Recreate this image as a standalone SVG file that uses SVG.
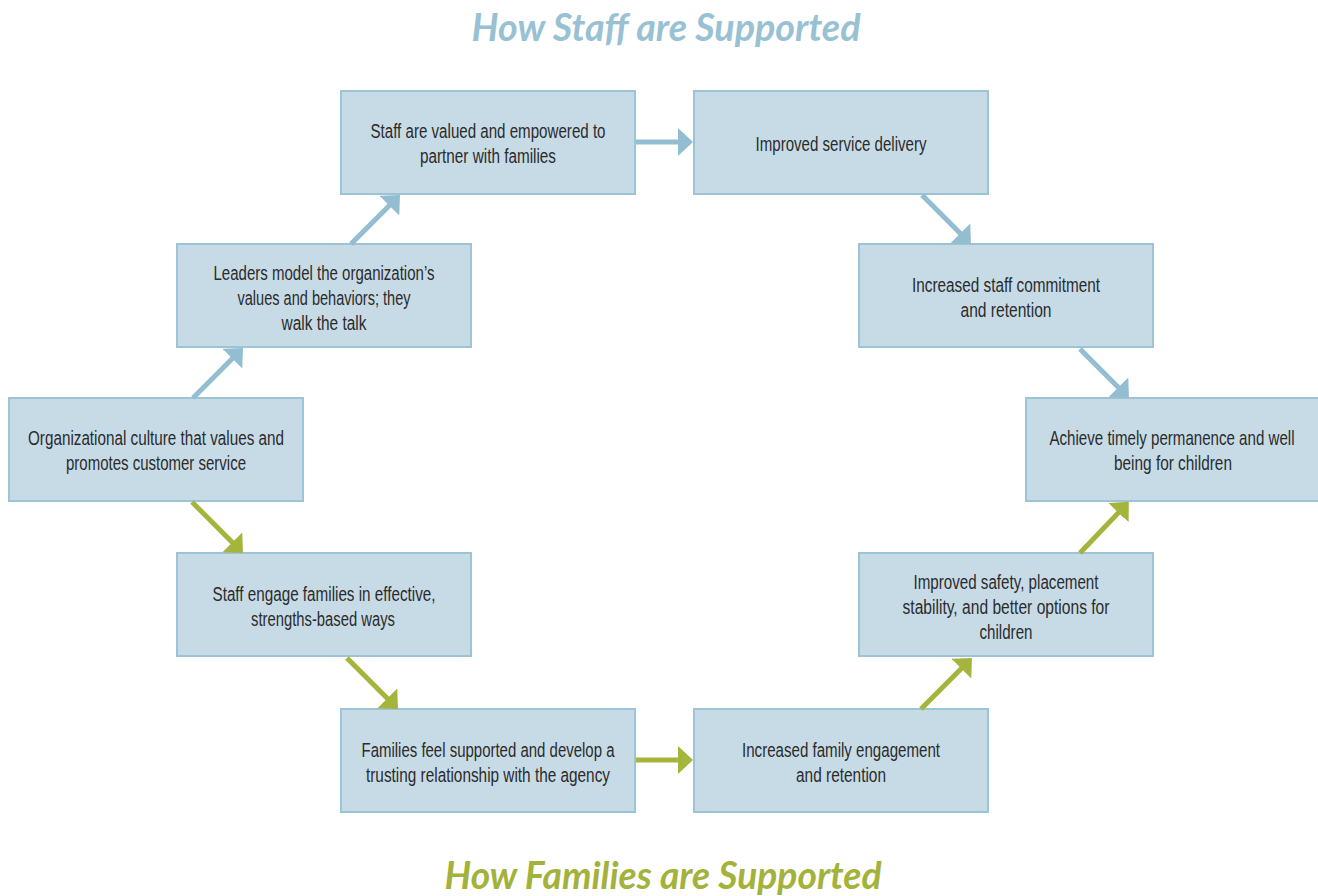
<svg xmlns="http://www.w3.org/2000/svg" width="1318" height="896" viewBox="0 0 1318 896">
<defs>
<style>
.box{fill:#c7dbe7;stroke:#9cc3d6;stroke-width:2}
.fill{fill:#c7dbe7}
.edge{fill:none;stroke:#9cc3d6;stroke-width:2}
.t{font-family:"Liberation Sans",Arial,sans-serif;font-size:20px;fill:#2b2b2b;text-anchor:middle}
.title{font-family:Lato,"Liberation Sans",sans-serif;font-weight:bold;font-style:italic;font-size:38px;text-anchor:middle}
.cb{stroke:#93bdd1;stroke-width:5;fill:none}
.cg{stroke:#a5b43a;stroke-width:5;fill:none}
</style>
<marker id="ab" markerUnits="userSpaceOnUse" markerWidth="16" markerHeight="30" viewBox="0 0 16 30" refX="5" refY="14" orient="auto"><path d="M0,0 L15,14 L0,28 z" fill="#93bdd1"/></marker>
<marker id="ag" markerUnits="userSpaceOnUse" markerWidth="16" markerHeight="30" viewBox="0 0 16 30" refX="5" refY="14" orient="auto"><path d="M0,0 L15,14 L0,28 z" fill="#a5b43a"/></marker>
</defs>
<rect width="1318" height="896" fill="#ffffff"/>
<text class="title" x="666" y="41" fill="#98c1d4" textLength="389" lengthAdjust="spacingAndGlyphs">How Staff are Supported</text>
<text class="title" x="663" y="889" fill="#a3b23a" textLength="437" lengthAdjust="spacingAndGlyphs">How Families are Supported</text>

<g id="n1"><rect class="box" x="341" y="91" width="294" height="103"/>
<text class="t" x="488" y="138" textLength="235" lengthAdjust="spacingAndGlyphs">Staff are valued and empowered to</text>
<text class="t" x="488" y="163" textLength="136" lengthAdjust="spacingAndGlyphs">partner with families</text></g>
<g id="n2"><rect class="box" x="694" y="91" width="294" height="103"/>
<text class="t" x="841" y="151" textLength="171" lengthAdjust="spacingAndGlyphs">Improved service delivery</text></g>
<g id="n3"><rect class="box" x="177" y="244" width="294" height="103"/>
<text class="t" x="324" y="280" textLength="221" lengthAdjust="spacingAndGlyphs">Leaders model the organization’s</text>
<text class="t" x="324" y="305" textLength="173" lengthAdjust="spacingAndGlyphs">values and behaviors; they</text>
<text class="t" x="324" y="330" textLength="85" lengthAdjust="spacingAndGlyphs">walk the talk</text></g>
<g id="n4"><rect class="box" x="859" y="244" width="294" height="103"/>
<text class="t" x="1006" y="292" textLength="188" lengthAdjust="spacingAndGlyphs">Increased staff commitment</text>
<text class="t" x="1006" y="317" textLength="91" lengthAdjust="spacingAndGlyphs">and retention</text></g>
<g id="n5"><rect class="box" x="9" y="398" width="294" height="103"/>
<text class="t" x="156" y="445" textLength="256" lengthAdjust="spacingAndGlyphs">Organizational culture that values and</text>
<text class="t" x="156" y="470" textLength="180" lengthAdjust="spacingAndGlyphs">promotes customer service</text></g>
<g id="n6"><rect class="fill" x="1026" y="398" width="292" height="103"/>
<path class="edge" d="M1318,398 H1026 V501 H1318"/>
<g transform="translate(1172,0) scale(0.75,1)">
<text class="t" x="0" y="445" textLength="326.7" lengthAdjust="spacingAndGlyphs">Achieve timely permanence and well</text>
<text class="t" x="1.3" y="470" textLength="157.3" lengthAdjust="spacingAndGlyphs">being for children</text>
</g></g>
<g id="n7"><rect class="box" x="177" y="553" width="294" height="103"/>
<text class="t" x="324" y="601" textLength="223" lengthAdjust="spacingAndGlyphs">Staff engage families in effective,</text>
<text class="t" x="323" y="626" textLength="144" lengthAdjust="spacingAndGlyphs">strengths-based ways</text></g>
<g id="n8"><rect class="box" x="859" y="553" width="294" height="103"/>
<text class="t" x="1006" y="589" textLength="185" lengthAdjust="spacingAndGlyphs">Improved safety, placement</text>
<text class="t" x="1006" y="614" textLength="207" lengthAdjust="spacingAndGlyphs">stability, and better options for</text>
<text class="t" x="1006" y="639" textLength="53" lengthAdjust="spacingAndGlyphs">children</text></g>
<g id="n9"><rect class="box" x="341" y="709" width="294" height="103"/>
<text class="t" x="488" y="757" textLength="253" lengthAdjust="spacingAndGlyphs">Families feel supported and develop a</text>
<text class="t" x="488" y="782" textLength="244" lengthAdjust="spacingAndGlyphs">trusting relationship with the agency</text></g>
<g id="n10"><rect class="box" x="694" y="709" width="294" height="103"/>
<text class="t" x="841" y="757" textLength="198" lengthAdjust="spacingAndGlyphs">Increased family engagement</text>
<text class="t" x="841" y="782" textLength="90" lengthAdjust="spacingAndGlyphs">and retention</text></g>

<g id="connectors">
<line class="cb" x1="193" y1="398" x2="235.9" y2="355.1" marker-end="url(#ab)"/>
<line class="cb" x1="351" y1="244" x2="392.9" y2="202.1" marker-end="url(#ab)"/>
<line class="cb" x1="636" y1="142" x2="683" y2="142" marker-end="url(#ab)"/>
<line class="cb" x1="922" y1="195" x2="963.9" y2="236.9" marker-end="url(#ab)"/>
<line class="cb" x1="1080" y1="349" x2="1121.9" y2="390.9" marker-end="url(#ab)"/>
<line class="cg" x1="192" y1="502" x2="235.9" y2="545.9" marker-end="url(#ag)"/>
<line class="cg" x1="347" y1="658" x2="390.9" y2="701.9" marker-end="url(#ag)"/>
<line class="cg" x1="636" y1="760" x2="683" y2="760" marker-end="url(#ag)"/>
<line class="cg" x1="921" y1="709" x2="964.9" y2="665.1" marker-end="url(#ag)"/>
<line class="cg" x1="1080" y1="553" x2="1121.9" y2="509.1" marker-end="url(#ag)"/>
</g>
</svg>
